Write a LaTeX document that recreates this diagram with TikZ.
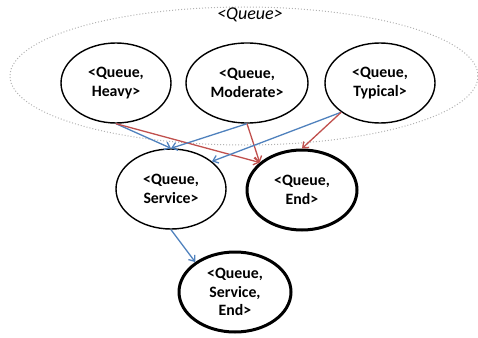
\documentclass[tikz,border=0pt]{standalone}
\usepackage{fontspec}
\setmainfont{Carlito}
\usetikzlibrary{shapes.geometric,arrows.meta}
\definecolor{eblue}{RGB}{79,129,189}
\definecolor{ered}{RGB}{192,80,77}
\begin{document}
\begin{tikzpicture}[x=1pt,y=-1pt,
  st/.style={ellipse,draw,line width=1.4pt,inner sep=0pt,align=center,font=\fontsize{15.8}{18.5}\selectfont\bfseries},
  thick st/.style={st,line width=3pt},
  bl/.style={draw=eblue,line width=1.3pt,-{Straight Barb[length=5pt,width=8pt]}},
  rd/.style={draw=ered,line width=1.3pt,-{Straight Barb[length=5pt,width=8pt]}},
  grp/.style={ellipse,draw=gray!60,dotted,line width=1pt,inner sep=0pt}]
\useasboundingbox (0,0) rectangle (478,337);
\node[grp,minimum width=468pt,minimum height=138pt] (grp) at (244,76) {};
\node[font=\fontsize{18}{21}\selectfont\itshape] (lbl) at (250,15) {<Queue>};
\node[st,minimum width=110pt,minimum height=80pt] (heavy) at (116,83) {<Queue,\\Heavy>};
\node[st,minimum width=122pt,minimum height=80pt] (mod) at (247,83) {<Queue,\\Moderate>};
\node[st,minimum width=110pt,minimum height=80pt] (typ) at (380,83) {<Queue,\\Typical>};
\node[st,minimum width=110pt,minimum height=80pt] (serv) at (171,189) {<Queue,\\Service>};
\node[thick st,minimum width=110pt,minimum height=80pt] (end) at (302,190) {<Queue,\\End>};
\node[thick st,minimum width=112pt,minimum height=80pt] (se) at (235,292) {<Queue,\\Service,\\End>};
\draw[bl] (heavy.south) -- (serv.north);
\draw[rd] (heavy.south) -- (end.147);
\draw[bl] (mod.south) -- (serv.north);
\draw[rd] (mod.south) -- (end.147);
\draw[bl] (typ.-143) -- (serv.34);
\draw[rd] (typ.-143) -- (end.north);
\draw[bl] (serv.south) -- (se.143);
\end{tikzpicture}
\end{document}
